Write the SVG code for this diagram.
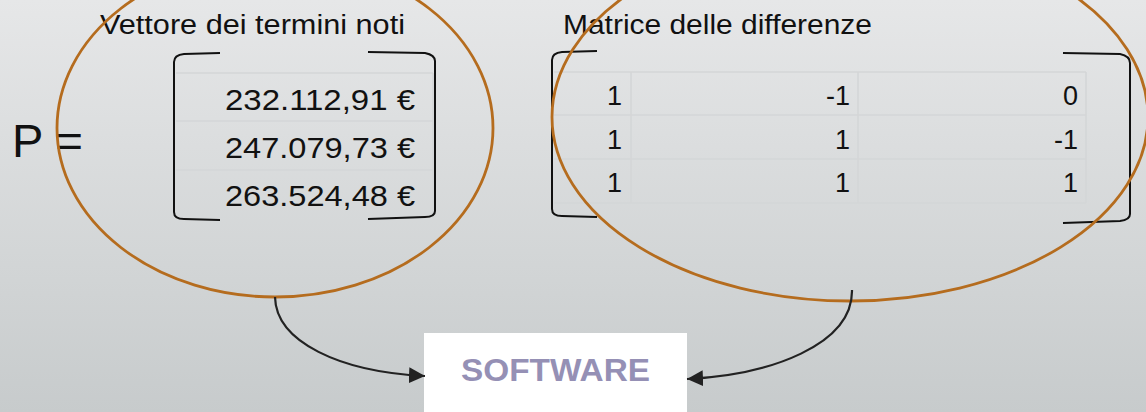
<svg xmlns="http://www.w3.org/2000/svg" width="1146" height="412" viewBox="0 0 1146 412">
<defs>
<linearGradient id="bg" x1="0" y1="0" x2="0" y2="1">
<stop offset="0" stop-color="#e6e7e8"/>
<stop offset="1" stop-color="#c7cbcc"/>
</linearGradient>
<marker id="ah" viewBox="0 0 16 16" refX="16" refY="8" markerWidth="16" markerHeight="16" markerUnits="userSpaceOnUse" orient="auto">
<path d="M0,0 L16,8 L0,16 Z" fill="#222"/>
</marker>
</defs>
<style>
.lbl{font-family:"Liberation Sans",Arial,sans-serif;font-size:27px;fill:#111}
.val{font-family:"Liberation Sans",Arial,sans-serif;font-size:30px;fill:#111;text-anchor:end}
.num{font-family:"Liberation Sans",Arial,sans-serif;font-size:27px;fill:#111;text-anchor:end}
.grid{stroke:#d4d6d7;stroke-width:1.6;fill:none}
.br{stroke:#111;stroke-width:2;fill:none}
.ell{stroke:#b56c1e;stroke-width:2.8;fill:none}
.con{stroke:#222;stroke-width:2.2;fill:none}
</style>
<rect x="0" y="0" width="1146" height="412" fill="url(#bg)"/>

<g id="p-label">
<text x="12" y="157" font-family="Liberation Sans,Arial,sans-serif" font-size="47" fill="#111">P =</text>
</g>

<g id="vettore">
<text class="lbl" x="100" y="34" textLength="305" lengthAdjust="spacingAndGlyphs">Vettore dei termini noti</text>
<path class="grid" d="M176,73 H433 M176,121 H433 M176,170 H433 M433,73 V218"/>
<path class="br" d="M220,53 L184,54 Q174,55 174,62 L174,212 Q174,219 184,219 L220,220"/>
<path class="br" d="M368,52 L425,53 Q435,55 435,61 L435,211 Q435,217 425,217 L368,219"/>
<text class="val" x="415" y="110" textLength="190" lengthAdjust="spacingAndGlyphs">232.112,91 €</text>
<text class="val" x="415" y="158" textLength="190" lengthAdjust="spacingAndGlyphs">247.079,73 €</text>
<text class="val" x="415" y="206" textLength="190" lengthAdjust="spacingAndGlyphs">263.524,48 €</text>
</g>

<g id="matrice">
<text class="lbl" x="563" y="34" textLength="309" lengthAdjust="spacingAndGlyphs">Matrice delle differenze</text>
<path class="grid" d="M554,72 H1086 M554,115 H1086 M554,159 H1086 M554,203 H1086 M631,72 V203 M858,72 V203 M1086,72 V203"/>
<path class="br" d="M597,51 L562,52 Q552,53 552,60 L552,209 Q552,216 562,216 L597,217"/>
<path class="br" d="M1063,53 L1120,54 Q1130,56 1130,63 L1130,214 Q1130,220 1120,221 L1063,223"/>
<text class="num" x="622" y="105">1</text>
<text class="num" x="850" y="105">-1</text>
<text class="num" x="1078" y="105">0</text>
<text class="num" x="622" y="149">1</text>
<text class="num" x="850" y="149">1</text>
<text class="num" x="1078" y="149">-1</text>
<text class="num" x="622" y="192">1</text>
<text class="num" x="850" y="192">1</text>
<text class="num" x="1078" y="192">1</text>
</g>

<g id="ellipse-vettore">
<ellipse class="ell" cx="275" cy="128" rx="218" ry="169"/>
</g>
<g id="ellipse-matrice">
<ellipse class="ell" cx="850" cy="117" rx="298" ry="184"/>
</g>

<g id="software">
<rect x="424" y="333" width="263" height="79" fill="#ffffff"/>
<text x="555.5" y="381" text-anchor="middle" font-family="Liberation Sans,Arial,sans-serif" font-weight="bold" font-size="32" fill="#9590b5" textLength="189" lengthAdjust="spacingAndGlyphs">SOFTWARE</text>
</g>

<g id="connectors">
<path class="con" d="M275,297 C276,342 340,372 425,376" marker-end="url(#ah)"/>
<path class="con" d="M852,290 C853,345 770,375 687,379" marker-end="url(#ah)"/>
</g>
</svg>
